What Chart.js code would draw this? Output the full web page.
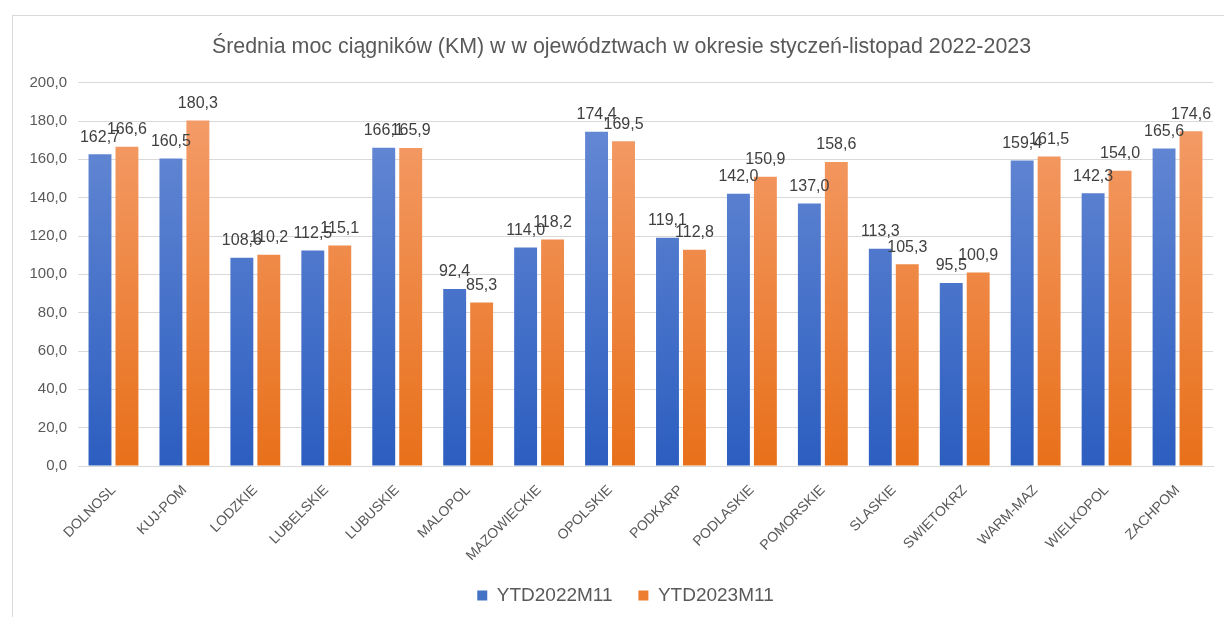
<!DOCTYPE html>
<html>
<head>
<meta charset="utf-8">
<script src="https://cdn.jsdelivr.net/npm/chart.js@4"></script>
<style>
  html, body { margin: 0; padding: 0; background: #fff; overflow: hidden; }
  #frame { position: absolute; left: 12px; top: 15px; width: 1240px; height: 640px; border: 1px solid #d9d9d9; }
  #wrap { position: absolute; left: 0; top: 0; width: 1224px; height: 617px; }
</style>
</head>
<body>
<div id="frame"></div>
<div id="wrap"><canvas id="myChart" width="1224" height="617"></canvas></div>
<script>
// Dane wykresu
const wojewodztwa = ['DOLNOSL', 'KUJ-POM', 'LODZKIE', 'LUBELSKIE', 'LUBUSKIE', 'MALOPOL', 'MAZOWIECKIE', 'OPOLSKIE',
    'PODKARP', 'PODLASKIE', 'POMORSKIE', 'SLASKIE', 'SWIETOKRZ', 'WARM-MAZ', 'WIELKOPOL', 'ZACHPOM'];
const ytd2022 = [162.7, 160.5, 108.6, 112.5, 166.1, 92.4, 114.0, 174.4, 119.1, 142.0, 137.0, 113.3, 95.5, 159.4, 142.3, 165.6];
const ytd2023 = [166.6, 180.3, 110.2, 115.1, 165.9, 85.3, 118.2, 169.5, 112.8, 150.9, 158.6, 105.3, 100.9, 161.5, 154.0, 174.6];
const yTicks = [0, 20, 40, 60, 80, 100, 120, 140, 160, 180, 200];

const fontFam = "'Liberation Sans', Arial, sans-serif";

// Formatowanie liczby z przecinkiem
function fmt(v) {
    return v.toFixed(1).replace('.', ',');
}

// Gradient słupka (jaśniejszy u góry)
function gradient(ctx, top, bottom) {
    const chart = ctx.chart;
    const area = chart.chartArea;
    if (!area) return bottom;
    const g = chart.ctx.createLinearGradient(0, area.top, 0, area.bottom);
    g.addColorStop(0, top);
    g.addColorStop(1, bottom);
    return g;
}

// Etykiety wartości nad słupkami
const valueLabels = {
    id: 'valueLabels',
    afterDatasetsDraw(chart) {
        const c = chart.ctx;
        c.save();
        c.font = '16px ' + fontFam;
        c.fillStyle = '#404040';
        c.textAlign = 'center';
        c.textBaseline = 'bottom';
        chart.data.datasets.forEach((ds, i) => {
            chart.getDatasetMeta(i).data.forEach((bar, j) => {
                c.fillText(fmt(ds.data[j]), bar.x, bar.y - 9);
            });
        });
        c.restore();
    }
};

// Przesunięcie tytułu i legendy w poziomie (jak w Excelu)
const shiftBlocks = {
    id: 'shiftBlocks',
    afterLayout(chart) {
        chart.titleBlock.left += 15;
        chart.titleBlock.right += 15;
        chart.legend.left += 19;
        chart.legend.right += 19;
    }
};

const ctx = document.getElementById('myChart').getContext('2d');
const chart = new Chart(ctx, {
    type: 'bar',
    data: {
        labels: wojewodztwa,
        datasets: [
            {
                label: 'YTD2022M11',
                data: ytd2022,
                backgroundColor: c => gradient(c, '#6b8dd6', '#2c5ec0'),
                legendColor: '#4472c4'
            },
            {
                label: 'YTD2023M11',
                data: ytd2023,
                backgroundColor: c => gradient(c, '#f5a070', '#e8701a'),
                legendColor: '#ed7d31'
            }
        ]
    },
    options: {
        responsive: false,
        animation: false,
        devicePixelRatio: 1,
        categoryPercentage: 0.76,
        barPercentage: 0.85,
        layout: { padding: { left: 0, right: 11, top: 0, bottom: 2 } },
        plugins: {
            title: {
                display: true,
                text: 'Średnia moc ciągników (KM) w w ojewództwach w okresie styczeń-listopad 2022-2023',
                color: '#595959',
                font: { family: fontFam, size: 21.4, weight: 'normal' },
                padding: { top: 34, bottom: 23 }
            },
            legend: {
                position: 'bottom',
                labels: {
                    color: '#595959',
                    font: { family: fontFam, size: 19 },
                    boxWidth: 10,
                    boxHeight: 10,
                    padding: 10,
                    generateLabels(chart) {
                        return chart.data.datasets.map((ds, i) => ({
                            text: i === 0 ? ds.label + '   ' : ds.label,
                            fillStyle: ds.legendColor,
                            strokeStyle: ds.legendColor,
                            lineWidth: 0,
                            fontColor: '#595959',
                            datasetIndex: i
                        }));
                    }
                }
            },
            tooltip: { enabled: false }
        },
        scales: {
            x: {
                grid: { display: false },
                border: { color: '#d9d9d9' },
                ticks: {
                    color: '#595959',
                    font: { family: fontFam, size: 14 },
                    padding: 8,
                    minRotation: 45,
                    maxRotation: 45,
                    autoSkip: false
                },
                afterFit(scale) { scale.height = 110; }
            },
            y: {
                min: 0,
                max: 200,
                afterBuildTicks(scale) { scale.ticks = yTicks.map(v => ({ value: v })); },
                grid: { color: '#d9d9d9', drawTicks: false },
                border: { display: false },
                ticks: {
                    color: '#595959',
                    font: { family: fontFam, size: 15 },
                    padding: 11,
                    callback: v => fmt(v)
                },
                afterFit(scale) { scale.width = 78; }
            }
        }
    },
    plugins: [valueLabels, shiftBlocks]
});
</script>
</body>
</html>
